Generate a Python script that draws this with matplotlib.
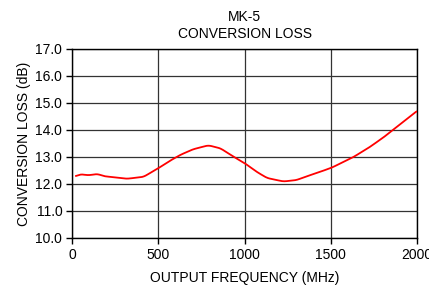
import matplotlib.pyplot as plt
import numpy as np

plt.rcParams['font.family'] = ['Liberation Sans', 'DejaVu Sans']

freq = [23, 46, 95, 149, 180, 250, 317, 414, 500, 560, 626, 700, 790, 860, 936, 1003, 1070, 1130, 1225, 1300, 1360, 1430, 1505, 1630, 1720, 1805, 1900, 2000]
loss = [12.28, 12.36, 12.32, 12.37, 12.29, 12.24, 12.19, 12.26, 12.58, 12.83, 13.07, 13.28, 13.43, 13.32, 13.01, 12.76, 12.45, 12.22, 12.09, 12.14, 12.28, 12.43, 12.60, 12.99, 13.34, 13.72, 14.20, 14.71]

xticks = [0, 500, 1000, 1500, 2000]
yticks = [10.0, 11.0, 12.0, 13.0, 14.0, 15.0, 16.0, 17.0]

fig = plt.figure(figsize=(4.29, 2.88), dpi=100)
ax = fig.add_axes([0.168, 0.174, 0.804, 0.656])

# smooth the hand-read points a little
fs = np.linspace(freq[0], freq[-1], 600)
ls = np.interp(fs, freq, loss)
k = np.ones(11) / 11
ls_s = np.convolve(np.pad(ls, 5, mode='edge'), k, mode='valid')
ax.plot(fs, ls_s, color='#ff0000', lw=1.3, zorder=3)

ax.set_xlim(0, 2000)
ax.set_ylim(10, 17)
ax.set_xticks(xticks)
ax.set_yticks(yticks)
ax.set_yticklabels([f"{v:.1f}" for v in yticks])
ax.grid(True, color='#333333', lw=0.9)
for s in ax.spines.values():
    s.set_color('black')
    s.set_linewidth(1.0)
ax.tick_params(labelsize=10, length=4, width=1, color='black', pad=3)
ax.set_xlabel('OUTPUT FREQUENCY (MHz)', fontsize=10, labelpad=7)
ax.set_ylabel('CONVERSION LOSS (dB)', fontsize=10, labelpad=3)
ax.set_title('MK-5\nCONVERSION LOSS', fontsize=10, pad=8, linespacing=1.25)

fig.savefig('out.png', dpi=100)
